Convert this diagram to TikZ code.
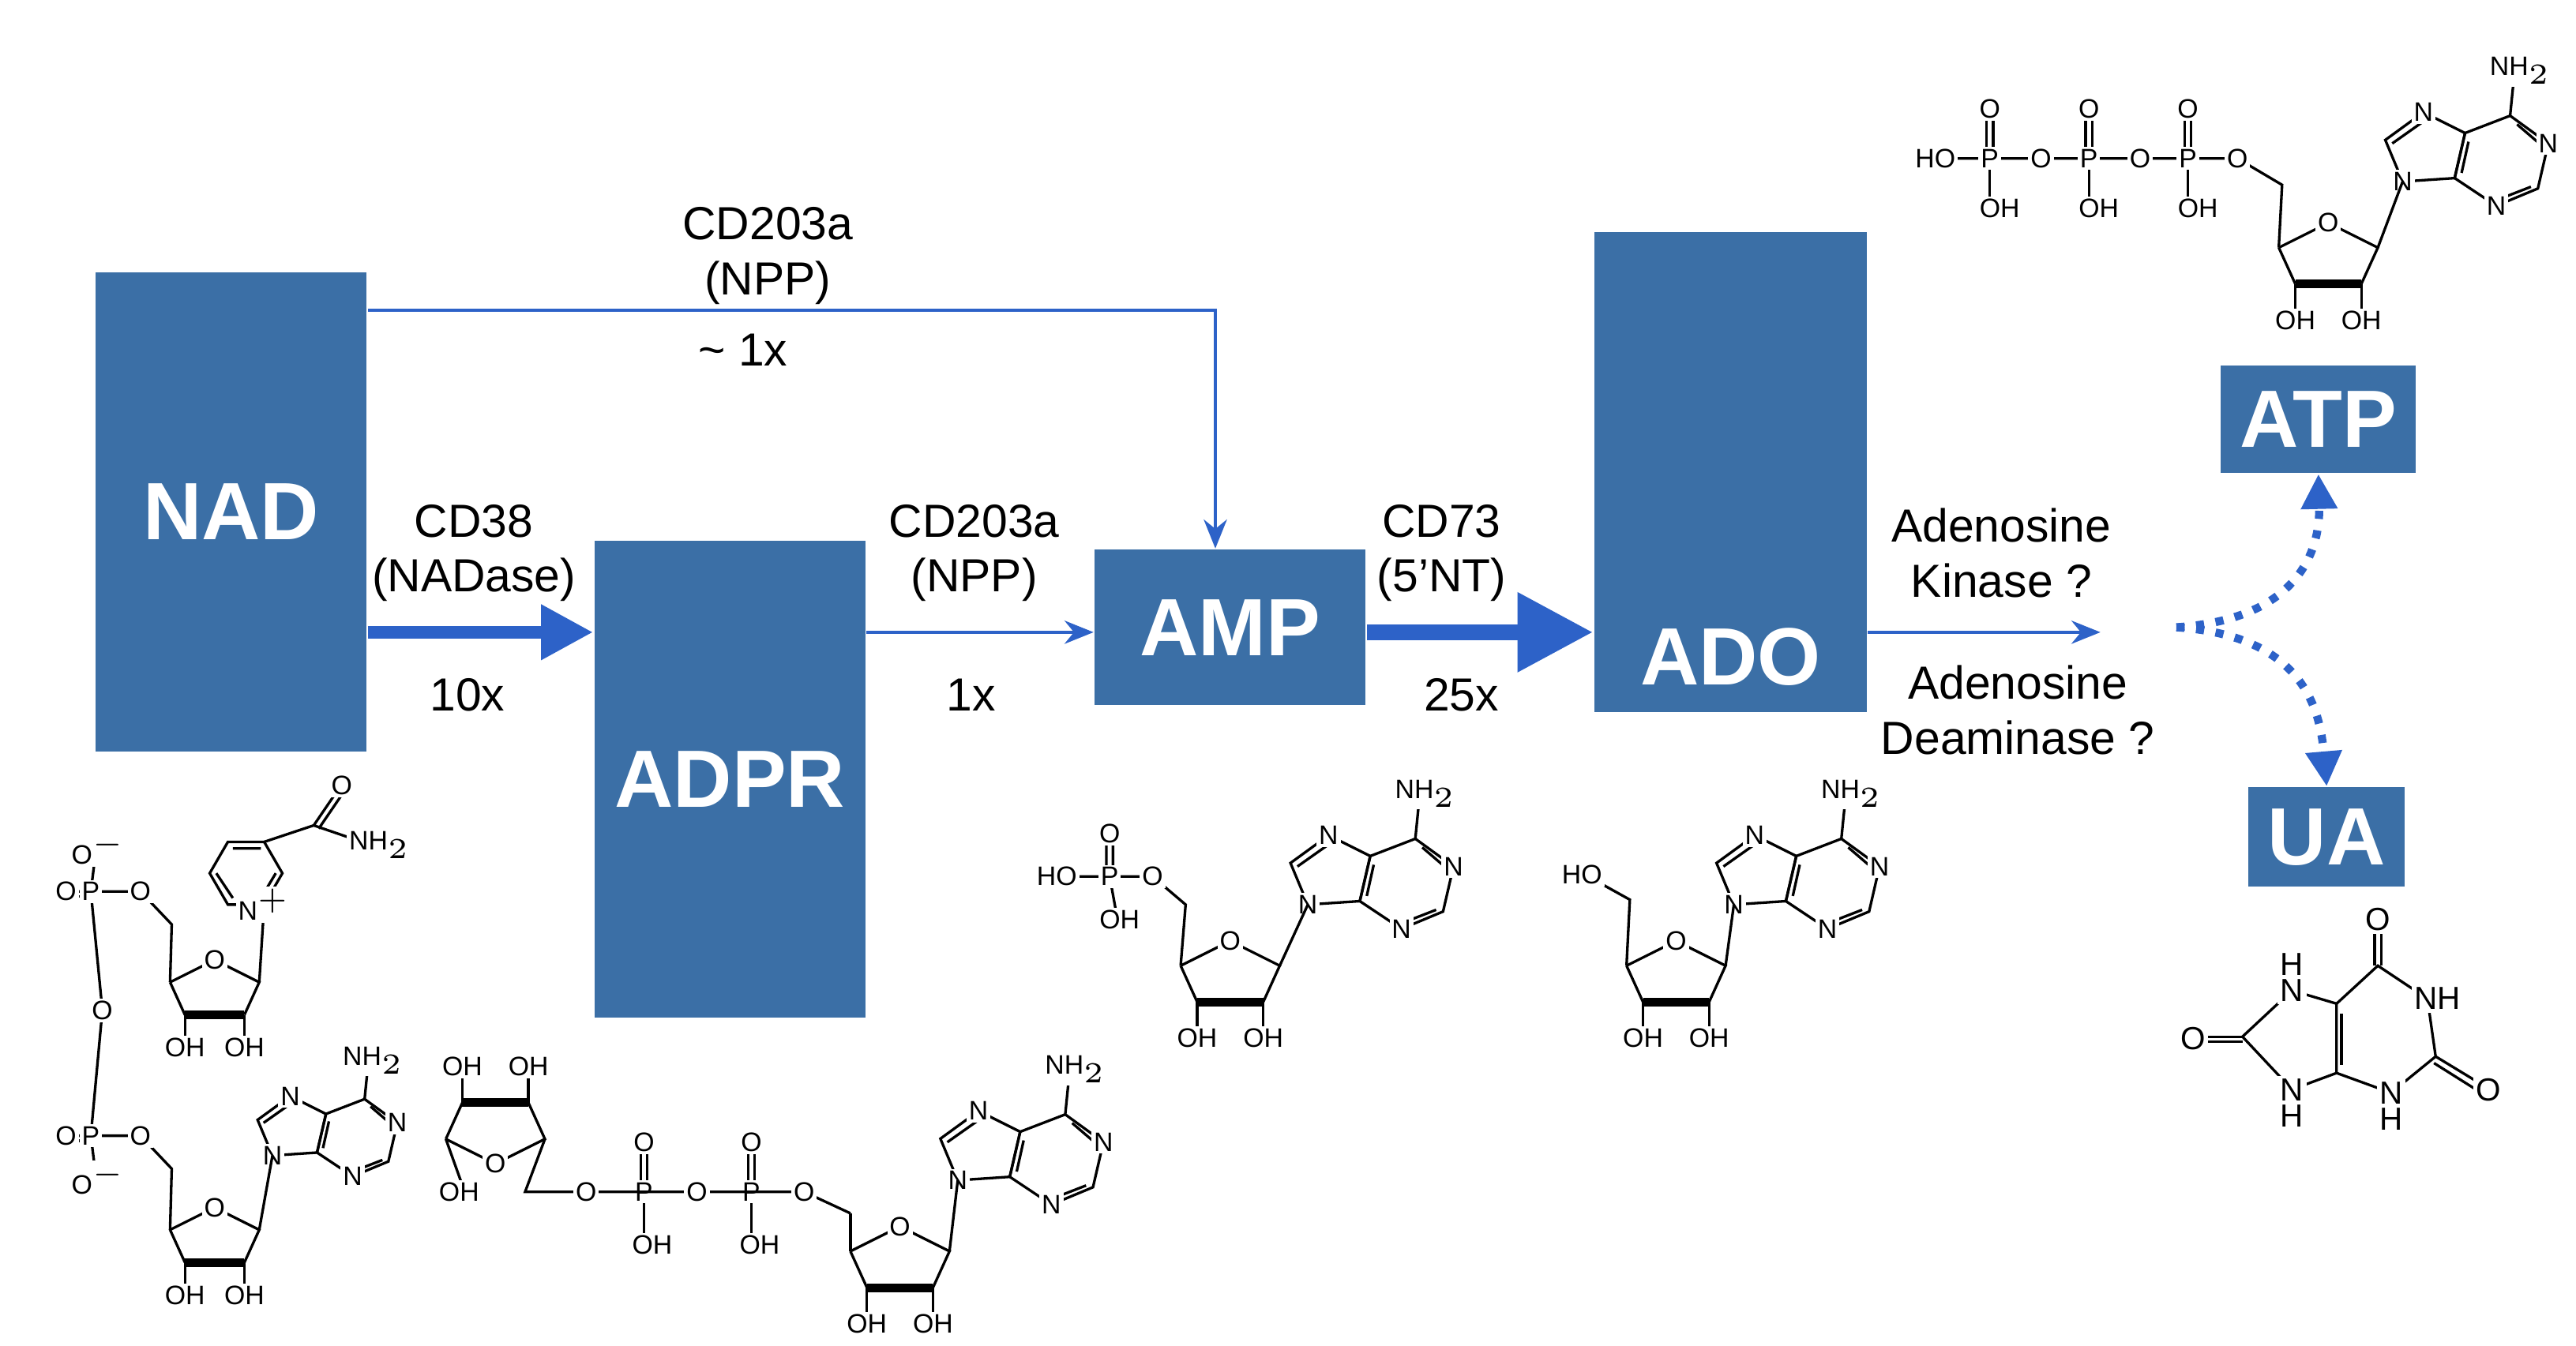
\documentclass[tikz,border=0pt]{standalone}
\usepackage{fontspec}
\setmainfont{Liberation Sans}
\usetikzlibrary{arrows.meta}
\definecolor{boxc}{HTML}{3B6FA6}
\definecolor{arrc}{HTML}{2D62C8}
\tikzset{
 box/.style={fill=boxc,draw=none,text=white,font=\bfseries\fontsize{14}{14}\selectfont},
 lab/.style={font=\fontsize{8}{9.5}\selectfont,align=center},
 bd/.style={line width=0.45pt},
 atm/.style={fill=white,inner sep=0.4pt,font=\fontsize{4.6}{5}\selectfont},
 ua/.style={fill=white,inner sep=0.5pt,font=\fontsize{5.5}{6}\selectfont},
 thin/.style={draw=arrc,line width=0.55pt,-{Stealth[length=5pt,width=4pt]}},
 ribose/.pic={
  \coordinate (-c4) at (-30,0); \coordinate (-c1) at (30,0);
  \draw[bd] (-30,0)--(0,-15)--(30,0)--(20,22);
  \draw[bd] (-20,22)--(-30,0);
  \draw[line width=1.5pt] (20,22)--(-20,22);
  \draw[bd] (-20,22)--(-20,38) (20,22)--(20,38);
  \node[atm] at (0,-15) {O};
  \node[atm] at (-20,44) {OH}; \node[atm] at (20,44) {OH};
 },
 purine/.pic={
  \coordinate (-n9) at (0,0);
  \draw[bd] (0,0)--(-10,-24)--(12,-40)--(36,-28)--(30,-2)--cycle;
  \draw[bd] (30,-2)--(36,-28)--(62,-38)--(84,-22)--(78,4)--(54,14)--cycle;
  \draw[bd] (-6,-22)--(11,-34) (38,-23)--(34,-5) (66,-33)--(80,-21) (74,3)--(56,10);
  \draw[bd] (62,-38)--(64,-58);
  \node[atm] at (0,0) {N}; \node[atm] at (12,-40) {N};
  \node[atm] at (84,-22) {N}; \node[atm] at (54,14) {N};
  \node[atm] at (68,-64) {NH$_2$};
 },
}
\begin{document}
\begin{tikzpicture}[x=0.01cm,y=-0.01cm]
\useasboundingbox (0,0) rectangle (1560,815);
% boxes
\node[box,minimum width=1.64cm,minimum height=2.9cm] (nad) at (140,310) {NAD};
\node[box,minimum width=1.64cm,minimum height=2.89cm] (adpr) at (442,472) {ADPR};
\node[box,minimum width=1.64cm,minimum height=0.94cm] (amp) at (745,380) {AMP};
\node[box,minimum width=1.65cm,minimum height=2.91cm] (ado) at (1048,286) {};
\node[box] at (1048,398) {ADO};
\node[box,minimum width=1.04cm,minimum height=0.65cm] (atp) at (1404,254) {ATP};
\node[box,minimum width=0.82cm,minimum height=0.6cm] (ua) at (1409,507) {UA};
% arrows
\coordinate (c1) at (736,188);
\draw[thin] (nad.east|-c1) -- (c1) -- (amp.north-|c1);
\node[lab] at (465,155) {CD203a\\(NPP)};
\node[lab] at (450,212) {\textasciitilde\ 1x};
\coordinate (ly) at (0,383);
\draw[draw=arrc,line width=2.2pt,-{Triangle[length=9pt,width=9pt]}] (nad.east|-ly) -- (adpr.west|-ly);
\node[lab] at (287,335) {CD38\\(NADase)};
\node[lab] at (283,421) {10x};
\draw[thin] (adpr.east|-ly) -- (amp.west|-ly);
\node[lab] at (590,335) {CD203a\\(NPP)};
\node[lab] at (588,421) {1x};
\draw[draw=arrc,line width=2.8pt,-{Triangle[length=13pt,width=13pt]}] (amp.east|-ly) -- (ado.west|-ly);
\node[lab] at (873,335) {CD73\\(5’NT)};
\node[lab] at (885,421) {25x};
\coordinate (ae) at (1272,383);
\draw[thin] (ado.east|-ly) -- (ae);
\node[lab] at (1212,335) {Adenosine\\Kinase ?};
\node[lab] at (1222,430) {Adenosine\\Deaminase ?};
\coordinate (ds) at (1318,380);
\draw[draw=arrc,line width=1.4pt,dotted,-{Triangle[length=6pt,width=6pt]}] (ds) .. controls (1395,375) and (1405,330) .. (atp.south);
\draw[draw=arrc,line width=1.4pt,dotted,-{Triangle[length=6pt,width=6pt]}] (ds) .. controls (1395,385) and (1405,430) .. (ua.north);
% ===== AMP structure
\pic (ra) at (745,585) {ribose};
\pic[scale=1.05] (pa) at (792,548) {purine};
\draw[bd] (ra-c1)--(pa-n9);
\draw[bd] (ra-c4)--(718,548)--(698,531)--(672,531)--(640,531);
\draw[bd] (670,531)--(670,505) (674,531)--(674,505) (672,531)--(676,553);
\node[atm] at (640,531) {HO}; \node[atm] at (672,531) {P}; \node[atm] at (698,531) {O};
\node[atm] at (672,505) {O}; \node[atm] at (678,557) {OH};
% ===== ADO structure
\pic (rd) at (1015,585) {ribose};
\pic[scale=1.05] (pd) at (1050,548) {purine};
\draw[bd] (rd-c1)--(pd-n9);
\draw[bd] (rd-c4)--(987,545)--(960,530);
\node[atm] at (958,530) {HO};
% ===== ATP structure
\pic (rt) at (1410,150) {ribose};
\pic[scale=1.05] (pt) at (1455,110) {purine};
\draw[bd] (rt-c1)--(pt-n9);
\draw[bd] (rt-c4)--(1382,112)--(1355,96)--(1168,96);
\foreach \x in {1205,1265,1325}{
 \draw[bd] (\x,96)--(\x,126) (\x-2,96)--(\x-2,66) (\x+2,96)--(\x+2,66);
 \node[atm] at (\x,96) {P}; \node[atm] at (\x,66) {O}; \node[atm] at (\x+6,126) {OH};}
\foreach \x in {1236,1296,1355}{\node[atm] at (\x,96) {O};}
\node[atm] at (1172,96) {HO};
% ===== NAD structure
\pic[scale=0.9] (rn1) at (130,595) {ribose};
\draw[bd] (rn1-c1) -- (160,548);
\draw[bd] (160,548)--(138,548)--(127,529)--(138,510)--(160,510)--(171,529)--cycle;
\draw[bd] (141,544)--(131,529) (141,514)--(158,514) (167,529)--(158,544);
\draw[bd] (160,510)--(190,500)--(205,478) (193,502)--(208,480) (190,500)--(225,512);
\node[atm] at (160,548) {N$^{+}$}; \node[atm] at (207,476) {O}; \node[atm] at (230,512) {NH$_2$};
\pic[scale=0.9] (rn2) at (130,745) {ribose};
\pic[scale=0.9] (pn) at (165,700) {purine};
\draw[bd] (rn2-c1)--(pn-n9);
\draw[bd] (rn1-c4)--(104,560)--(85,540)--(55,540)--(38,540);
\draw[bd] (55,540)--(58,516) (55,540)--(62,612)--(55,688) (55,688)--(58,712);
\draw[bd] (rn2-c4)--(104,708)--(85,688)--(55,688)--(38,688);
\draw[bd] (38,543)--(55,543) (38,691)--(55,691);
\node[atm] at (40,540) {O}; \node[atm] at (55,540) {P}; \node[atm] at (85,540) {O}; \node[atm] at (60,514) {O$^{-}$};
\node[atm] at (62,612) {O};
\node[atm] at (40,688) {O}; \node[atm] at (55,688) {P}; \node[atm] at (85,688) {O}; \node[atm] at (60,714) {O$^{-}$};
% ===== ADPR structure
\pic[yscale=-1] (rl) at (300,690) {ribose};
\draw[bd] (rl-c1)--(318,722)--(355,722);
\draw[bd] (rl-c4)--(280,718);
\node[atm] at (278,722) {OH};
\foreach \x in {390,455}{
 \draw[bd] (\x,722)--(\x,750) (\x-2,722)--(\x-2,692) (\x+2,722)--(\x+2,692);
 \node[atm] at (\x,722) {P}; \node[atm] at (\x,692) {O}; \node[atm] at (\x+5,754) {OH};}
\draw[bd] (355,722)--(487,722)--(515,735);
\foreach \x in {355,422,487}{\node[atm] at (\x,722) {O};}
\pic (rr) at (545,758) {ribose};
\draw[bd] (rr-c4)--(515,735);
\pic[scale=1.05] (pr) at (580,715) {purine};
\draw[bd] (rr-c1)--(pr-n9);
% ===== UA structure
\draw[bd] (1388,600)--(1358,628)--(1388,660)--(1415,650)--(1415,608)--cycle;
\draw[bd] (1415,608)--(1440,585)--(1470,605)--(1475,640)--(1448,662)--(1415,650);
\draw[bd] (1418,614)--(1418,645);
\draw[bd] (1358,628)--(1332,628) (1358,631)--(1332,631);
\draw[bd] (1438,585)--(1438,560) (1442,585)--(1442,560);
\draw[bd] (1475,640)--(1503,657) (1474,644)--(1501,661);
\node[ua] at (1388,600) {N}; \node[ua,fill=none] at (1388,584) {H};
\node[ua] at (1388,660) {N}; \node[ua,fill=none] at (1388,676) {H};
\node[ua] at (1476,605) {NH};
\node[ua] at (1448,662) {N}; \node[ua,fill=none] at (1448,678) {H};
\node[ua] at (1328,629) {O};
\node[ua] at (1440,557) {O};
\node[ua] at (1507,660) {O};
\end{tikzpicture}
\end{document}
